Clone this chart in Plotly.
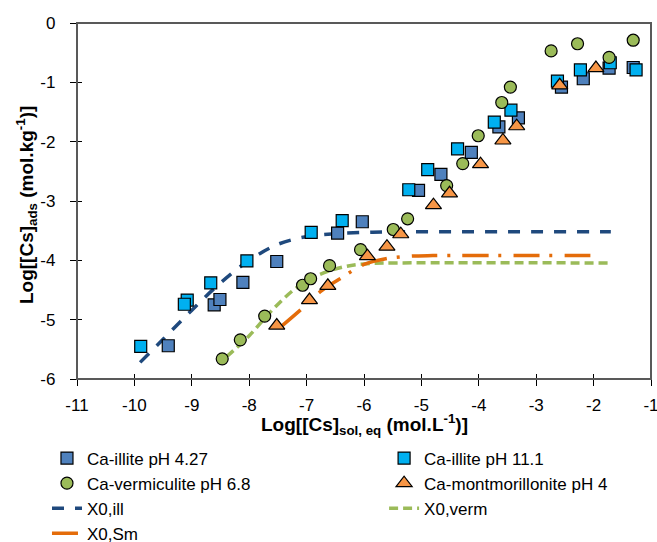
import plotly.graph_objects as go

# ---------------- data ----------------
illite_427_x = [-9.41, -8.61, -8.51, -8.11, -7.52, -6.46, -6.03, -5.05, -4.66, -4.13, -3.65, -3.31, -2.56, -2.18, -1.73, -1.31]
illite_427_y = [-5.44, -4.75, -4.66, -4.37, -4.02, -3.54, -3.35, -2.82, -2.55, -2.18, -1.75, -1.60, -1.08, -0.94, -0.76, -0.75]

illite_111_x = [-9.89, -9.08, -9.13, -8.67, -8.04, -6.92, -6.38, -5.22, -4.89, -4.37, -3.73, -3.44, -2.63, -2.23, -1.71, -1.26]
illite_111_y = [-5.45, -4.67, -4.74, -4.38, -4.01, -3.53, -3.33, -2.81, -2.47, -2.12, -1.67, -1.47, -0.98, -0.79, -0.67, -0.79]

verm_x = [-8.47, -8.155, -7.73, -7.07, -6.93, -6.60, -6.06, -5.49, -5.24, -4.56, -4.28, -4.01, -3.60, -3.45, -2.74, -2.28, -1.73, -1.31]
verm_y = [-5.66, -5.34, -4.94, -4.42, -4.31, -4.09, -3.82, -3.48, -3.30, -2.74, -2.37, -1.90, -1.34, -1.08, -0.47, -0.35, -0.58, -0.29]

mont_x = [-7.52, -6.95, -6.63, -5.94, -5.60, -5.36, -4.79, -4.51, -3.97, -3.58, -3.34, -2.59, -1.96]
mont_y = [-5.10, -4.67, -4.43, -3.93, -3.77, -3.56, -3.07, -2.87, -2.38, -1.98, -1.74, -1.05, -0.76]

x0_ill_x = [-9.9, -9.5, -9.0, -8.5, -8.0, -7.5, -7.0, -6.5, -6.0, -5.5, -1.7]
x0_ill_y = [-5.72, -5.33, -4.84, -4.38, -4.00, -3.73, -3.60, -3.55, -3.53, -3.52, -3.52]

x0_verm_x = [-8.4, -8.0, -7.6, -7.2, -6.8, -6.4, -6.0, -5.5, -1.7]
x0_verm_y = [-5.63, -5.27, -4.84, -4.48, -4.25, -4.12, -4.06, -4.045, -4.045]

x0_sm_x = [-7.45, -7.1, -6.75, -6.4, -6.0, -5.6, -5.2, -4.8, -1.93]
x0_sm_y = [-5.12, -4.83, -4.52, -4.30, -4.07, -3.97, -3.93, -3.92, -3.92]

x_ticks = [-11, -10, -9, -8, -7, -6, -5, -4, -3, -2, -1]
y_ticks = [-6, -5, -4, -3, -2, -1, 0]

x_title = "<b>Log[[Cs]<sub>sol, eq</sub> (mol.L<sup>-1</sup>)]</b>"
y_title = "<b>Log[[Cs]<sub>ads</sub> (mol.kg<sup>-1</sup>)]</b>"

FONT = "Liberation Sans, Arial, sans-serif"

fig = go.Figure()

# model lines (drawn first, listed after the markers in the legends)
fig.add_trace(go.Scatter(x=x0_ill_x, y=x0_ill_y, mode="lines", name="X0,ill",
                         line=dict(color="#1F497D", width=3.5, dash="12px,11px", shape="spline"),
                         legend="legend", legendrank=3))
fig.add_trace(go.Scatter(x=x0_verm_x, y=x0_verm_y, mode="lines", name="X0,verm",
                         line=dict(color="#9BBB59", width=3.5, dash="9px,5px", shape="spline"),
                         legend="legend2", legendrank=3))
fig.add_trace(go.Scatter(x=x0_sm_x, y=x0_sm_y, mode="lines", name="X0,Sm",
                         line=dict(color="#E46C0A", width=3.5, dash="26px,10px,3px,12px", shape="spline"),
                         legend="legend", legendrank=4))

mk_line = dict(color="black", width=1.2)
fig.add_trace(go.Scatter(x=illite_427_x, y=illite_427_y, mode="markers", name="Ca-illite pH 4.27",
                         marker=dict(symbol="square", size=12, color="#4F81BD", line=mk_line),
                         legend="legend", legendrank=1))
fig.add_trace(go.Scatter(x=illite_111_x, y=illite_111_y, mode="markers", name="Ca-illite pH 11.1",
                         marker=dict(symbol="square", size=12, color="#00B0F0", line=mk_line),
                         legend="legend2", legendrank=1))
fig.add_trace(go.Scatter(x=verm_x, y=verm_y, mode="markers", name="Ca-vermiculite pH 6.8",
                         marker=dict(symbol="circle", size=12, color="#9BBB59", line=mk_line),
                         legend="legend", legendrank=2))
fig.add_trace(go.Scatter(x=mont_x, y=mont_y, mode="markers", name="Ca-montmorillonite pH 4",
                         marker=dict(symbol="triangle-up", size=14, color="#F79646", line=mk_line),
                         legend="legend2", legendrank=2))

# overlay axes that give the inward half of the crossing tick marks
fig.add_trace(go.Scatter(x=[-11], y=[-6], mode="markers", marker=dict(opacity=0),
                         xaxis="x2", yaxis="y2", showlegend=False, hoverinfo="skip"))

axis_font = dict(family=FONT, size=17, color="black")
title_font = dict(family=FONT, size=19, color="black")

fig.update_layout(
    width=657, height=542,
    margin=dict(l=77, r=6, t=23, b=163, autoexpand=False),
    paper_bgcolor="white", plot_bgcolor="white",
    showlegend=True,
    xaxis=dict(range=[-11, -1], tickvals=x_ticks, ticktext=[str(v) for v in x_ticks],
               showgrid=False, zeroline=False, showline=True, linecolor="black", linewidth=1.3,
               ticks="outside", ticklen=6, tickwidth=1.3, tickcolor="black",
               tickfont=axis_font, ticklabelstandoff=4, ticklabeloverflow="allow"),
    yaxis=dict(range=[-6, 0], tickvals=y_ticks, ticktext=[str(v) for v in y_ticks],
               showgrid=False, zeroline=False, showline=True, linecolor="black", linewidth=1.3,
               ticks="outside", ticklen=6, tickwidth=1.3, tickcolor="black",
               tickfont=axis_font, ticklabelstandoff=11, ticklabeloverflow="allow"),
    xaxis2=dict(range=[-11, -1], tickvals=x_ticks, overlaying="x", anchor="y2", side="bottom",
                showticklabels=False, showgrid=False, zeroline=False, showline=False,
                ticks="inside", ticklen=5, tickwidth=1.3, tickcolor="black"),
    yaxis2=dict(range=[-6, 0], tickvals=y_ticks, overlaying="y", anchor="x2", side="left",
                showticklabels=False, showgrid=False, zeroline=False, showline=False,
                ticks="inside", ticklen=5, tickwidth=1.3, tickcolor="black"),
    legend=dict(x=-0.0523, y=-0.1728, xanchor="left", yanchor="top", orientation="v",
                font=dict(family=FONT, size=17, color="black"), bgcolor="rgba(0,0,0,0)",
                itemsizing="trace", traceorder="normal"),
    legend2=dict(x=0.535, y=-0.1728, xanchor="left", yanchor="top", orientation="v",
                 font=dict(family=FONT, size=17, color="black"), bgcolor="rgba(0,0,0,0)",
                 itemsizing="trace", traceorder="normal"),
    annotations=[
        dict(text=x_title, xref="paper", yref="paper", x=0.5, y=-0.129,
             xanchor="center", yanchor="middle", showarrow=False, font=title_font),
        dict(text=y_title, xref="paper", yref="paper", x=-0.088, y=0.49, textangle=-90,
             xanchor="center", yanchor="middle", showarrow=False, font=title_font),
    ],
    shapes=[dict(type="rect", xref="paper", yref="paper", x0=0, x1=1, y0=0, y1=1,
                 line=dict(color="#595959", width=2), layer="above")],
)

fig.write_html("out.html", config={"displayModeBar": False},
               post_script="document.body.style.margin='0';")
